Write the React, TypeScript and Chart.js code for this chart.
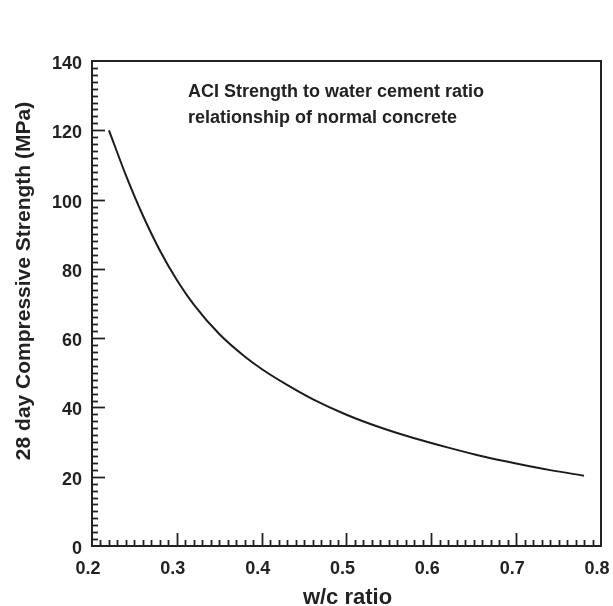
import React, { useEffect, useRef } from "react";
import { Chart, registerables } from "chart.js";

Chart.register(...registerables);

// w/c ratio (x) and 28-day compressive strength in MPa (y)
const wcRatio = [0.22, 0.24, 0.26, 0.28, 0.3, 0.32, 0.35, 0.38, 0.4, 0.43, 0.46, 0.5, 0.54, 0.58, 0.62, 0.66, 0.7, 0.74, 0.78];
const strength = [120, 107, 95.4, 85.3, 76.8, 69.7, 61.2, 54.7, 51.1, 46.5, 42.4, 37.9, 34.2, 31.1, 28.4, 25.9, 23.8, 21.9, 20.3];

const xTitle = "w/c ratio";
const yTitle = "28 day Compressive Strength (MPa)";
const noteLines = ["ACI Strength to water cement ratio", "relationship of normal concrete"];

const xMin = 0.2;
const xMax = 0.8;
const xMajorStep = 0.1;
const xMinorStep = 0.01;
const yMin = 0;
const yMax = 140;
const yMajorStep = 20;
const yMinorStep = 2;

const INK = "#222222";
const FONT = "'Liberation Sans', Arial, Helvetica, sans-serif";

const framePlugin = {
  id: "framePlugin",
  afterDraw(chart: any) {
    const { ctx, chartArea, scales } = chart;
    const xs = scales.x;
    const ys = scales.y;
    ctx.save();
    ctx.strokeStyle = INK;
    // top and right frame lines
    ctx.lineWidth = 2;
    ctx.beginPath();
    ctx.moveTo(chartArea.left, chartArea.top);
    ctx.lineTo(chartArea.right, chartArea.top);
    ctx.lineTo(chartArea.right, chartArea.bottom);
    ctx.stroke();

    // inward ticks on x axis
    ctx.lineWidth = 1.8;
    const nx = Math.round((xMax - xMin) / xMinorStep);
    const perMajorX = Math.round(xMajorStep / xMinorStep);
    for (let i = 1; i < nx; i++) {
      const v = xMin + i * xMinorStep;
      const px = Math.round(xs.getPixelForValue(v)) + 0.5;
      const len = i % perMajorX === 0 ? 13 : 6;
      ctx.beginPath();
      ctx.moveTo(px, chartArea.bottom);
      ctx.lineTo(px, chartArea.bottom - len);
      ctx.stroke();
    }
    // inward ticks on y axis
    const ny = Math.round((yMax - yMin) / yMinorStep);
    const perMajorY = Math.round(yMajorStep / yMinorStep);
    for (let i = 1; i < ny; i++) {
      const v = yMin + i * yMinorStep;
      const py = Math.round(ys.getPixelForValue(v)) + 0.5;
      const len = i % perMajorY === 0 ? 13 : 6;
      ctx.beginPath();
      ctx.moveTo(chartArea.left, py);
      ctx.lineTo(chartArea.left + len, py);
      ctx.stroke();
    }

    // axis titles
    ctx.fillStyle = INK;
    ctx.font = `bold 22px ${FONT}`;
    ctx.textAlign = "center";
    ctx.textBaseline = "alphabetic";
    ctx.fillText(xTitle, (chartArea.left + chartArea.right) / 2 + 1, chart.height - 2);

    ctx.save();
    ctx.translate(30, 281);
    ctx.rotate(-Math.PI / 2);
    ctx.font = `bold 21px ${FONT}`;
    ctx.textAlign = "center";
    ctx.textBaseline = "alphabetic";
    ctx.fillText(yTitle, 0, 0);
    ctx.restore();

    // annotation
    ctx.font = `bold 18px ${FONT}`;
    ctx.textAlign = "left";
    ctx.textBaseline = "alphabetic";
    noteLines.forEach((t, i) => {
      ctx.fillText(t, 188, 97 + i * 26);
    });
    ctx.restore();
  },
};

export default function App() {
  const canvasRef = useRef<HTMLCanvasElement | null>(null);

  useEffect(() => {
    document.body.style.margin = "0";
    const canvas = canvasRef.current;
    if (!canvas) return;
    const chart = new Chart(canvas, {
      type: "line",
      data: {
        datasets: [
          {
            label: "ACI",
            data: wcRatio.map((w, i) => ({ x: w, y: strength[i] })),
            borderColor: "#1c1c1c",
            borderWidth: 2,
            pointRadius: 0,
            fill: false,
            cubicInterpolationMode: "monotone",
          },
        ],
      },
      options: {
        responsive: false,
        animation: false,
        devicePixelRatio: 1,
        layout: { padding: { top: 61, right: 12, left: 0, bottom: 0 } },
        plugins: {
          legend: { display: false },
          tooltip: { enabled: false },
          title: { display: false },
        },
        scales: {
          x: {
            type: "linear",
            min: xMin,
            max: xMax,
            afterFit: (s: any) => {
              s.height = 60;
              s.paddingRight = 12;
              s.paddingLeft = 0;
            },
            ticks: {
              stepSize: xMajorStep,
              color: INK,
              padding: 12,
              labelOffset: -4,
              maxRotation: 0,
              font: { family: FONT, size: 18, weight: "bold" },
              callback: (v: any) => Number(v).toFixed(1),
            },
            grid: { display: false, drawTicks: false },
            border: { display: true, color: INK, width: 2 },
          },
          y: {
            type: "linear",
            min: yMin,
            max: yMax,
            afterFit: (s: any) => {
              s.width = 92;
              s.paddingTop = 0;
              s.paddingBottom = 0;
            },
            ticks: {
              stepSize: yMajorStep,
              color: INK,
              padding: 10,
              labelOffset: 3,
              font: { family: FONT, size: 18, weight: "bold" },
            },
            grid: { display: false, drawTicks: false },
            border: { display: true, color: INK, width: 2 },
          },
        },
      },
      plugins: [framePlugin],
    } as any);
    return () => chart.destroy();
  }, []);

  return (
    <div style={{ width: 613, height: 606, background: "#ffffff" }}>
      <canvas ref={canvasRef} width={613} height={606} />
    </div>
  );
}
